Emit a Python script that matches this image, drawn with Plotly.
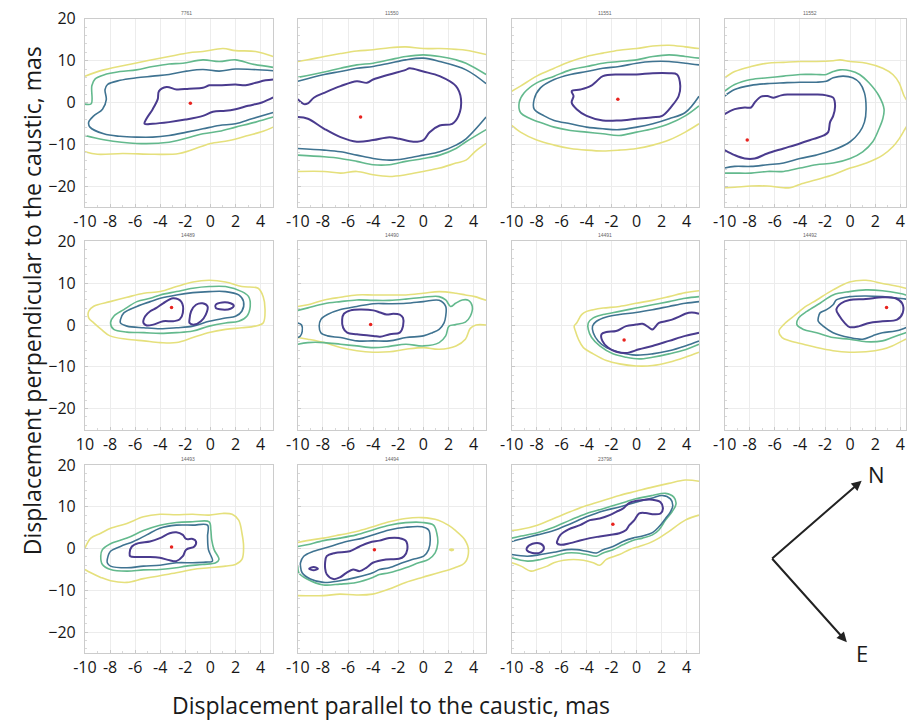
import plotly.graph_objects as go

W, H = 907, 721

TITLES = ["7761", "11550", "11551", "11552", "14489", "14490",
          "14491", "14492", "14493", "14494", "23798"]
X_TICKS = [-10, -8, -6, -4, -2, 0, 2, 4]
X_TICKTEXT = ["-10", "-8", "-6", "-4", "-2", "0", "2", "4"]
X_TICKTEXT_14489 = ["10", "-8", "-6", "-4", "-2", "0", "2", "4"]
Y_TICKS = [20, 10, 0, -10, -20]
X_RANGE = [-10, 5]
Y_RANGE = [-25, 20]

# ---- contour lines (data units). Level 1 = innermost (purple) ... level 4 = outermost (yellow)
# 7761
c7761_L1 = [[(5, 5.5), (4.4, 5.3), (3.6, 4.7), (2.8, 4.1), (2, 4.3), (0.7, 4.1), (-0.1, 4.1), (-0.6, 3.5), (-1.7, 3.3),
             (-2.7, 3.1), (-3.5, 3.7), (-4.1, 2.7), (-4.2, 0.8), (-4.6, -1.6), (-5.1, -3.9), (-5.25, -5.1), (-4.6, -5.1),
             (-3.3, -4.7), (-2, -4.1), (-0.6, -3.2), (0.2, -2.2), (1.2, -2.0), (2, -1.6), (3, -0.8), (4.1, 0), (5, 1.2)]]
c7761_L2 = [[(5, 7.6), (3.3, 7.9), (2, 8.0), (0.7, 7.5), (-0.6, 7.9), (-1.9, 7.5), (-3.3, 6.7), (-4.6, 6.3), (-5.9, 5.9),
             (-7.2, 5.3), (-8.2, 4.3), (-8.4, 3.1), (-8.3, 0.7), (-8.6, -1.6), (-9.3, -3.2), (-9.7, -4.7), (-9.6, -5.9),
             (-8.5, -7.5), (-7.2, -8.1), (-5.9, -8.3), (-4.6, -8.3), (-3.3, -7.9), (-1.9, -7.1), (-0.6, -6.3),
             (0.7, -5.5), (2, -5.1), (3.3, -3.9), (5, -2.4)]]
c7761_L3 = [[(-10, -0.4), (-9.5, -0.3), (-9.45, 4.0), (-9.2, 5.6), (-8.5, 6.6), (-7.2, 7.4), (-5.9, 7.8), (-4.6, 8.6),
             (-3.3, 9.2), (-2.2, 9.4), (-0.6, 10.2), (0.7, 9.8), (2, 10.2), (3.3, 9.2), (5, 8.4)],
            [(-10, -7.9), (-8.5, -8.9), (-5.9, -9.8), (-3.3, -9.5), (-0.6, -7.5), (0.7, -6.9), (2, -5.9), (3.6, -4.7),
             (5, -3.5)]]
c7761_L4 = [[(-10, 6.3), (-8.5, 7.8), (-6, 9.4), (-3.3, 11), (-1.7, 11.9), (-0.6, 12.2), (1, 12.9), (2, 12.4),
             (3.6, 12.2), (5, 11)],
            [(-10, -11.8), (-9, -12.4), (-7, -12.2), (-4.5, -12.4), (-2.5, -12.2), (-0.8, -10.6), (0, -9.8),
             (1.5, -9.1), (3, -7.9), (4.2, -6.9), (5, -5.9)]]
dot7761 = (-1.6, -0.2)

# 11550
c11550_L1 = [[(-10, 0.8), (-9.5, -0.4), (-9.2, -0.2), (-8.7, 1.2), (-7.9, 2.3), (-6.6, 3.9), (-5.3, 5.1), (-4.5, 4.7),
              (-4, 5.5), (-2.7, 6.7), (-1.4, 7.8), (-1.1, 8.2), (0, 7.4), (1.3, 6.3), (2.6, 3.9), (3, 0.8), (2.8, -3.2),
              (2.3, -5.1), (1.3, -5.5), (0.5, -7.1), (0, -9), (-0.8, -9.4), (-1.9, -8.7), (-2.7, -8.3), (-4, -9),
              (-5.3, -9.4), (-6.6, -8.3), (-7.9, -6.3), (-9.2, -3.9), (-10, -3.5)]]
c11550_L2 = [[(-10, 5.1), (-7.9, 6.7), (-6.6, 7.4), (-5.3, 8.2), (-4, 8.6), (-2.7, 9.4), (-1.4, 10.2), (0, 10.6),
              (1.3, 9.8), (3.4, 7.8), (5, 4.5)],
             [(-10, -11), (-7.9, -11.4), (-6.6, -11.8), (-5.3, -12.6), (-4, -13.4), (-2.7, -13.8), (-1.4, -13.4),
              (0, -12.6), (1.3, -11.8), (2.6, -10.2), (3.4, -8.7), (5, -3.5)]]
c11550_L3 = [[(-10, 6.0), (-7.9, 7.3), (-6.6, 8.2), (-5.3, 9), (-4, 9.4), (-2.7, 10.2), (-1.4, 11), (0, 11.4), (1.3, 11),
              (2.6, 10.2), (3.4, 9.4), (5, 6.7)],
             [(-10, -12.6), (-7.9, -13), (-6.6, -13.4), (-5.3, -14.1), (-4, -14.9), (-2.7, -14.9), (-1.4, -14.1),
              (0, -13.4), (1.3, -12.6), (2.6, -11), (3.4, -9.4), (5, -6.5)]]
c11550_L4 = [[(-10, 9.8), (-9.2, 10.2), (-7.9, 11), (-6.6, 11.7), (-5.3, 12.3), (-4, 12.6), (-2.7, 13.1), (-1.4, 13.3),
              (0, 12.9), (1.3, 12.9), (2.6, 12.7), (3.4, 12.5), (5, 11.5)],
             [(-10, -16.5), (-7.9, -16.5), (-6.6, -16.9), (-5.3, -16.5), (-4, -17.3), (-2.7, -17.7), (-1.4, -17.3),
              (0, -16.5), (1.3, -15.7), (2.6, -14.5), (3.4, -13.8), (4.1, -11.8), (5, -9.8)]]
dot11550 = (-5.0, -3.5)

# 11551
c11551_L1 = [[(-5.2, 2.7), (-5.05, 1.55), (-5.2, 0), (-4.8, -1.6), (-4, -3.2), (-2.7, -4.3), (-1.4, -4.3), (0, -3.9),
              (1.3, -3.55), (2.05, -3.2), (2.84, -0.8), (3.37, 1.55), (3.5, 3.9), (3.24, 6.7), (2.6, 7), (1.3, 7),
              (0, 6.7), (-1.4, 6.7), (-2.7, 6.3), (-3.2, 5.1), (-3.7, 3.9), (-4.5, 3.1), (-5.2, 2.7)]]
c11551_L2 = [[(5, 9), (3.9, 9.4), (2.6, 9.8), (1.3, 9.8), (0, 9.4), (-1.4, 8.6), (-2.7, 8.2), (-4, 7.4), (-5.3, 6.7),
              (-6.6, 5.5), (-7.7, 3.5), (-8.2, 0.8), (-8.2, -1.6), (-7.4, -3.2), (-6.6, -4.3), (-5.3, -5.1), (-4, -5.9),
              (-2.7, -6.3), (-1.4, -6.5), (0, -5.9), (1.3, -5.1), (2.6, -3.9), (3.9, -2.4), (5, 1.5)]]
c11551_L3 = [[(5, 10.6), (3.9, 11), (2.6, 11.4), (1.3, 11), (0, 10.2), (-1.4, 9.8), (-2.7, 9.4), (-4, 8.6), (-5.3, 7.8),
              (-6.6, 6.3), (-8, 4.7), (-9, 2.3), (-9.4, 0), (-9.3, -2.4), (-8.5, -3.9), (-7.4, -5.1), (-6.6, -5.9),
              (-5.3, -6.7), (-4, -7.1), (-2.7, -7.5), (-1.4, -7.9), (0, -7.1), (1.3, -6.3), (2.6, -5.1), (3.9, -3.2),
              (5, -0.8)]]
c11551_L4 = [[(-10, 2.7), (-9.3, 3.9), (-8, 6.3), (-6.6, 8.2), (-5.3, 9.8), (-4, 11), (-2.7, 11.8), (-1.4, 12.5),
              (0, 12.9), (1.3, 13.5), (2.6, 13.7), (3.9, 13.3), (5, 12.9)],
             [(-10, -5.5), (-9.3, -7.1), (-8, -9), (-6.6, -10.2), (-5.3, -11), (-4, -11.4), (-2.7, -11.6),
              (-1.4, -11.4), (0, -11), (1.3, -10.2), (2.6, -9), (3.9, -7.1), (5, -5.1)]]
dot11551 = (-1.5, 0.8)

# 11552
c11552_L1 = [[(-10, -2.8), (-9.2, -1.6), (-8.4, -1.2), (-7.9, -1.2), (-7.6, 0), (-7.1, 1.4), (-6.6, 1.55), (-6.1, 1.15),
              (-5.5, 1.7), (-5, 1.9), (-4, 1.9), (-2.7, 1.9), (-1.9, 1.7), (-1.35, 1.15), (-1.2, -0.8), (-1.35, -3.2),
              (-1.6, -4.7), (-1.75, -7.1), (-2.1, -7.9), (-2.9, -8.7), (-4, -9.8), (-5.3, -11), (-6.6, -12.2),
              (-7.6, -13.4), (-8.4, -13.4), (-9.2, -12.6), (-10, -11.4)]]
c11552_L2 = [[(-10, 1.55), (-9.2, 3.1), (-7.9, 4.1), (-6.6, 4.5), (-5.3, 4.7), (-4, 4.85), (-2.7, 4.85), (-1.9, 5.1),
              (-1.35, 5.9), (-0.56, 6.3), (0.2, 5.9), (0.75, 4.7), (1.14, 2.3), (1.27, -1.6), (1.14, -4.7),
              (0.75, -7.1), (0, -9.4), (-1.35, -11.4), (-2.7, -12.6), (-4, -13.4), (-5.3, -14.5), (-6.6, -14.9),
              (-7.9, -15.3), (-9.2, -15.3), (-10, -15.7)]]
c11552_L3 = [[(-10, 2.7), (-9.2, 4.3), (-7.9, 5.5), (-6.6, 5.9), (-5.3, 6.3), (-4, 6.7), (-2.7, 6.7), (-1.9, 6.7),
              (-1.35, 7.4), (-0.8, 7.8), (0, 7.6), (0.75, 6.7), (1.5, 4.7), (2.3, 1.55), (2.7, -1.6), (2.6, -3.9),
              (2.3, -6.3), (1.8, -9.4), (1, -11.8), (0, -13.4), (-1.35, -14.5), (-2.7, -14.9), (-4, -15.7),
              (-5.3, -16.5), (-6.6, -16.5), (-7.9, -16.9), (-9.2, -16.9), (-10, -16.9)]]
c11552_L4 = [[(-10, 5.9), (-9.2, 7.4), (-7.9, 8.6), (-6.6, 9.4), (-5.3, 9.6), (-4, 9.8), (-2.7, 9.8), (-1.35, 10),
              (-0.8, 10.2), (0, 9.8), (1.3, 9.4), (2.6, 8.2), (3.4, 6.7), (3.9, 4.7), (4.3, 1.55), (4.6, 0),
              (4.7, -2.5), (4.6, -5), (4.3, -6.7), (3.9, -8.7), (3.4, -10.6), (2.6, -12.6), (1.3, -14.5), (0, -15.7),
              (-1.35, -17.3), (-2.7, -18.5), (-4, -19.6), (-4.8, -20.4), (-5.3, -20.4), (-6.6, -20), (-7.9, -20),
              (-9.2, -20.3), (-10, -20.4)]]
dot11552 = (-8.2, -9.0)

# 14489
c14489_L1 = [[(-5.34, 0.5), (-5.2, 2.1), (-4.8, 3.3), (-4.3, 4.1), (-3.77, 5.2), (-2.98, 6.4), (-2.33, 5.6), (-2.2, 2.9),
              (-2.46, 1.3), (-2.98, 0.9), (-3.77, 0.9), (-4.55, 0.1), (-5.08, -0.1), (-5.34, 0.5)],
             [(-1.67, 1.3), (-1.54, 3.3), (-1.15, 4.85), (-0.63, 5.2), (-0.23, 4.45), (-0.37, 2.5), (-0.76, 0.9),
              (-1.28, 0.1), (-1.67, 0.5), (-1.67, 1.3)],
             [(0.42, 4.85), (0.94, 5.4), (1.6, 5.2), (1.86, 4.6), (1.6, 3.9), (0.94, 3.7), (0.42, 4.1), (0.42, 4.85)]]
c14489_L2 = [[(-7.17, 1.3), (-6.9, 2.9), (-5.86, 4.45), (-4.8, 5.6), (-4, 6.4), (-2.7, 7.2), (-1.4, 7.75), (-0.1, 8),
              (1.2, 8), (2.25, 7.2), (2.64, 5.6), (2.5, 3.3), (2, 2.1), (1.2, 1.7), (-0.1, 0.9), (-1.4, -0.26),
              (-2.7, -0.65), (-4, -0.9), (-5.3, -0.65), (-6.65, -0.26), (-7.17, 0.5), (-7.17, 1.3)]]
c14489_L3 = [[(-7.96, 0.5), (-7.7, 2.1), (-6.9, 3.7), (-5.86, 5.6), (-4.8, 6.4), (-4, 7.2), (-2.7, 8), (-1.4, 8.8),
              (-0.1, 9.2), (1.2, 9.2), (2.5, 8), (3.04, 6.8), (3.17, 4.45), (2.9, 2.1), (2.25, 0.9), (1.2, 0.5),
              (-0.1, -0.26), (-1.4, -1.44), (-2.7, -1.83), (-4, -2), (-5.3, -1.83), (-6.65, -1.7), (-7.7, -1.05),
              (-7.96, 0.5)]]
c14489_L4 = [[(-9.7, 3.3), (-9.3, 4.5), (-8, 5.6), (-6.65, 6.65), (-5.3, 7.6), (-4, 8), (-2.7, 9.2), (-1.4, 10.3),
              (-0.1, 10.7), (1.2, 10.3), (2.5, 9.2), (3.8, 8.8), (4.2, 6.8), (4.35, 3.7), (4.2, 0.5), (3.56, -0.26),
              (2.5, -0.65), (1.2, -1.05), (-0.1, -1.8), (-1.4, -3), (-2.7, -4.2), (-4, -4.2), (-5.3, -3.8),
              (-6.65, -3.4), (-8, -2.6), (-8.7, -1.05), (-9.3, 0.5), (-9.7, 1.7), (-9.7, 3.3)]]
dot14489 = (-3.1, 4.2)

# 14490
c14490_L1 = [[(-6.47, 1.3), (-6.33, 2.7), (-5.8, 3.5), (-5.03, 3.7), (-3.98, 3.5), (-3.45, 3.0), (-2.93, 2.5),
              (-2.4, 2.7), (-1.88, 2.5), (-1.62, 1.7), (-1.62, -0.26), (-1.88, -1.83), (-2.67, -2.2), (-3.45, -2.8),
              (-3.98, -2.6), (-5.29, -2.2), (-6.07, -1.83), (-6.39, -0.65), (-6.47, 1.3)]]
c14490_L2 = [[(-8.3, -0.26), (-8.17, 1.3), (-7.64, 2.5), (-6.6, 3.7), (-5.3, 4.45), (-4, 5.1), (-2.7, 5.1),
              (-1.36, 5.2), (0, 5.6), (1.26, 5.9), (1.78, 4.45), (1.78, 2.1), (1.65, 0.5), (1.26, -1.05),
              (0.73, -1.83), (0, -2.6), (-1.36, -3), (-2.7, -3.8), (-4, -3.8), (-5.3, -3.8), (-6.6, -3),
              (-7.64, -2.6), (-8.17, -1.83), (-8.3, -0.26)],
             [(-10, 0.5), (-9.7, 0), (-9.65, -1.5), (-9.8, -2.6), (-10, -3)]]
c14490_L3 = [[(-10, 3.5), (-9.2, 4.1), (-7.9, 5.1), (-6.6, 5.6), (-5.3, 6), (-4, 5.9), (-2.7, 5.9), (-1.4, 6.2),
              (0, 6.65), (1.26, 6.8), (1.78, 6), (2.17, 4.45), (2.57, 5.2), (3.1, 6), (3.6, 5.9), (3.9, 4.45),
              (3.74, 2.1), (3.35, 0.7), (2.57, 0.1), (2.04, -0.26), (1.78, -2.6), (1.26, -4.2), (0, -5),
              (-1.4, -4.6), (-2.7, -5.1), (-4, -5.4), (-5.3, -5), (-6.6, -4.6), (-7.9, -4.2), (-9.2, -4.2),
              (-10, -4.6)]]
c14490_L4 = [[(-10, 4.45), (-9.2, 4.85), (-7.9, 6), (-6.6, 6.65), (-5.3, 7.2), (-4, 7.2), (-2.7, 7.2), (-1.4, 7.2),
              (0, 7.6), (1.26, 8), (2.6, 7.6), (3.35, 7.2), (4.1, 6.8), (5, 5.9)],
             [(-10, -3), (-9.2, -3.4), (-7.9, -4.2), (-6.6, -5.4), (-5.3, -6.15), (-4, -6.5), (-2.7, -6.4),
              (-1.4, -5.8), (0, -5.4), (1.26, -5.8), (2.6, -5), (3.35, -3.4), (3.74, -0.8), (4.2, 0), (5, 0)]]
dot14490 = (-4.2, 0.1)

# 14491
c14491_L1 = [[(5, 2.7), (4.42, 3.0), (3.9, 2.7), (3.37, 1.94), (2.84, 1.3), (2.32, 0.9), (1.79, 0.5), (1.27, -1.05),
              (1.0, -0.6), (0.48, 0.3), (-0.05, 0.1), (-0.84, -0.26), (-1.63, -1.44), (-2.42, -1.67), (-2.81, -2.2),
              (-2.74, -3.8), (-2.29, -5.4), (-1.63, -6.4), (-0.84, -6.7), (0.21, -5.8), (1.27, -5.0), (2.6, -3.8),
              (3.9, -2.6), (5, -1.83)]]
c14491_L2 = [[(5, 5.6), (3.9, 5.2), (2.6, 4.45), (1.27, 3.67), (-0.05, 3.0), (-1.37, 2.5), (-2.42, 1.94), (-3.21, 0.9),
              (-3.53, -0.26), (-3.47, -1.83), (-3.08, -3.8), (-2.42, -5.4), (-1.37, -6.5), (-0.05, -7.2),
              (1.27, -6.9), (2.6, -6.15), (3.9, -5), (5, -3.8)]]
c14491_L3 = [[(5, 6.8), (3.9, 6.4), (2.6, 5.6), (1.27, 4.85), (-0.05, 4.06), (-1.37, 3.27), (-2.68, 2.5), (-3.47, 1.7),
              (-3.87, 0.5), (-3.87, -1.05), (-3.6, -3.0), (-2.95, -5), (-1.9, -6.9), (-0.84, -7.7), (0.21, -8.1),
              (1.27, -7.7), (2.6, -6.9), (3.9, -5.9), (5, -4.6)]]
c14491_L4 = [[(5, 8.2), (3.9, 7.75), (2.6, 6.8), (1.27, 5.9), (-0.05, 5.2), (-1.37, 4.45), (-2.68, 4.06), (-3.47, 3.67),
              (-4, 3.27), (-4.4, 2.5), (-4.8, 0.5), (-5, -0.26), (-4.9, -1.44), (-4.66, -3.4), (-4.26, -5.4),
              (-3.47, -6.9), (-2.42, -8.5), (-1.37, -9.3), (-0.05, -9.8), (1.27, -9.7), (2.6, -8.9), (3.9, -7.7),
              (5, -6.5)]]
dot14491 = (-1.0, -3.6)

# 14492
c14492_L1 = [[(-1.1, 3.67), (-0.71, 5.2), (-0.05, 6), (1.26, 6.2), (2.57, 6.65), (3.61, 6.4), (4.14, 5.2), (4.19, 2.9),
              (3.74, 1.3), (2.57, 0.9), (1.52, 0.5), (0.73, -0.26), (-0.05, -0.5), (-0.44, 0.5), (-0.84, 2.1),
              (-1.1, 3.67)]]
c14492_L2 = [[(5, 5.8), (4.43, 6.2), (3.88, 6.4), (2.57, 6.8), (1.26, 6.96), (-0.05, 6.8), (-1.1, 6.0), (-1.36, 4.85),
              (-1.88, 3.67), (-2.4, 2.9), (-2.54, 1.7), (-2.54, 0.9), (-2.15, -0.26), (-1.36, -1.83), (-0.05, -3.0),
              (1.0, -3.4), (1.78, -2.6), (2.57, -1.83), (3.6, -1.44), (4.43, -0.65), (5, 0)]]
c14492_L3 = [[(5, 6.5), (4.43, 7.2), (3.88, 7.6), (2.57, 8.2), (1.26, 8.4), (-0.05, 8), (-1.36, 7.2), (-2.4, 5.2),
              (-3.45, 3.27), (-4.1, 1.7), (-4.24, 0.1), (-3.72, -1.05), (-2.67, -1.83), (-1.36, -3.0), (-0.05, -3.4),
              (1.26, -4.0), (2.57, -3.8), (3.35, -3.0), (4.43, -1.83), (5, -1.2)]]
c14492_L4 = [[(5, 8.0), (4.43, 8.8), (3.88, 9.2), (2.57, 9.95), (1.26, 10.7), (-0.05, 10.3), (-1.36, 8.4), (-2.67, 6),
              (-3.72, 4.06), (-4.5, 2.1), (-5.29, 0.1), (-5.68, -1.44), (-5.42, -3.0), (-4.76, -3.8), (-3.72, -4.6),
              (-2.67, -5.4), (-1.36, -6.15), (-0.05, -6.5), (1.26, -6.4), (2.57, -5.8), (3.35, -5.0), (4.43, -3.4),
              (5, -2.5)]]
dot14492 = (2.9, 4.2)

# 14493
c14493_L1 = [[(-6.44, -1.05), (-6.26, 0.5), (-5.73, 1.3), (-4.82, 1.7), (-4.03, 2.5), (-3.25, 3.67), (-2.72, 3.9),
              (-2.2, 3.27), (-1.94, 2.3), (-1.41, 2.3), (-1.15, 1.7), (-1.28, 0.5), (-1.94, -0.26), (-2.2, -1.83),
              (-2.72, -3.0), (-3.25, -2.8), (-4.03, -2.2), (-4.82, -2.0), (-5.86, -2.0), (-6.39, -1.83),
              (-6.44, -1.05)]]
c14493_L2 = [[(-8.22, -2.6), (-7.96, -0.65), (-7.17, 0.5), (-6.13, 1.7), (-5.08, 3.27), (-4.03, 4.85), (-2.72, 5.6),
              (-1.41, 5.6), (-0.23, 5.6), (-0.23, 2.9), (-0.16, -0.26), (0.16, -3), (-0.37, -3.25), (-1.41, -3.4),
              (-2.72, -3.4), (-4.03, -4), (-5.34, -4.2), (-6.65, -4.6), (-7.96, -4.2), (-8.22, -3.4), (-8.22, -2.6)]]
c14493_L3 = [[(-8.74, -1.83), (-8.61, -0.26), (-7.96, 1.15), (-6.65, 2.5), (-5.34, 4.3), (-4.03, 5.6), (-2.72, 6.25),
              (-1.41, 6.4), (-0.1, 6.4), (0.03, 4.45), (0.1, 2.1), (0.29, -0.26), (0.68, -2.6), (0.42, -3.4),
              (-0.63, -3.8), (-1.94, -4.2), (-2.72, -4.6), (-4.03, -5), (-5.34, -5.1), (-6.65, -5.4), (-7.96, -5),
              (-8.61, -3.8), (-8.74, -1.83)]]
c14493_L4 = [[(-10, 0.1), (-9.53, 2.5), (-8.74, 3.67), (-7.96, 4.85), (-6.65, 6), (-5.34, 7.6), (-4.03, 8.2),
              (-2.72, 8.1), (-1.41, 8.2), (-0.1, 8.0), (0.94, 8.4), (1.73, 8.2), (2.25, 6.8), (2.51, 3.67),
              (2.64, 0.5), (2.51, -2.6), (1.99, -3.8), (1.2, -4.2), (-0.1, -4.6), (-1.41, -5), (-2.72, -5.8),
              (-4.03, -6.5), (-5.34, -7.2), (-6.65, -8.1), (-7.96, -7.7), (-8.74, -6.9), (-9.53, -5.8), (-10, -5.0)]]
dot14493 = (-3.1, 0.4)

# 14494
c14494_L1 = [[(-7.83, -3.4), (-7.7, -1.83), (-7.04, -1.05), (-5.86, -0.65), (-5.08, 0.5), (-4.29, 1.45), (-3.5, 1.9),
              (-2.72, 2.5), (-1.94, 2.5), (-1.41, 1.9), (-1.28, -0.26), (-1.54, -1.83), (-1.94, -2.45), (-2.98, -2.6),
              (-4.03, -3.4), (-4.55, -4.6), (-5.08, -5.4), (-5.6, -5.0), (-6.13, -5.8), (-6.65, -6.9), (-7.17, -7.3),
              (-7.7, -6.15), (-7.83, -4.6), (-7.83, -3.4)],
             [(-9.1, -4.8), (-8.74, -4.4), (-8.4, -4.8), (-8.74, -5.2), (-9.1, -4.8)]]
c14494_L2 = [[(-9.79, -3.4), (-9.53, -1.83), (-8.74, -0.65), (-7.43, 0.5), (-6.13, 1.7), (-4.82, 2.5), (-4.03, 3.27),
              (-2.72, 4.45), (-1.41, 5.1), (-0.1, 5.2), (0.42, 4.45), (0.55, 2.1), (0.42, -0.26), (0.03, -1.83),
              (-0.89, -2.6), (-1.67, -3.4), (-2.72, -4.6), (-3.5, -5), (-4.03, -5.8), (-5.34, -6.9), (-6.65, -7.7),
              (-7.96, -8.1), (-9, -7.3), (-9.66, -5.8), (-9.79, -4.2), (-9.79, -3.4)]]
c14494_L3 = [[(-10, 0.5), (-9.27, 0.9), (-7.96, 1.9), (-6.65, 2.5), (-5.34, 3.27), (-4.03, 4.45), (-2.72, 5.6),
              (-1.41, 6.2), (-0.1, 6.25), (0.81, 5.6), (1.07, 3.67), (1.15, 1.3), (0.94, -1.05), (0.42, -2.6),
              (-0.37, -3.4), (-1.41, -4.6), (-2.72, -5.8), (-3.5, -6.2), (-4.03, -6.9), (-5.34, -8.1), (-6.65, -8.5),
              (-7.96, -8.7), (-9.27, -7.3), (-9.92, -5.8), (-10, -4.2)]]
c14494_L4 = [[(-10, 1.45), (-9.27, 1.9), (-7.96, 2.5), (-6.65, 3.27), (-5.34, 4.06), (-4.03, 5.2), (-2.72, 6.4),
              (-1.41, 7.2), (-0.1, 7.4), (1.2, 6.8), (1.99, 5.6), (2.5, 4.45), (3.3, 2.1), (3.6, -0.5), (3.3, -3.4),
              (2.5, -4.6), (1.2, -5.8), (-0.1, -6.9), (-1.41, -8.1), (-2.72, -9.7), (-4.03, -10.9), (-5.34, -11.1),
              (-6.65, -10.9), (-7.96, -11.25), (-10, -11.25)],
             [(2.1, -0.3), (2.25, -0.1), (2.4, -0.3), (2.25, -0.5), (2.1, -0.3)]]
dot14494 = (-3.9, -0.3)

# 23798
c23798_L1 = [[(-6.37, 1.7), (-6.1, 3.27), (-5.45, 4.6), (-4.53, 5.6), (-3.74, 6.8), (-2.95, 7.2), (-2.16, 8.0),
              (-1.63, 8.8), (-1.1, 9.55), (-0.58, 10.9), (0.21, 11.5), (1.27, 11.7), (1.92, 11.1), (2.11, 9.55),
              (1.92, 8.4), (1.4, 8.2), (0.74, 8.5), (0.21, 8.4), (-0.18, 6.8), (-0.58, 5.6), (-0.84, 4.45),
              (-1.37, 3.67), (-2.16, 3.27), (-2.95, 2.9), (-3.74, 2.5), (-4.53, 1.94), (-5.32, 1.3), (-6.1, 0.9),
              (-6.37, 1.3), (-6.37, 1.7)],
             [(-8.79, 0.13), (-8.34, 1.15), (-7.68, 1.15), (-7.42, 0.13), (-7.68, -0.9), (-8.34, -1.05),
              (-8.79, -0.4), (-8.79, 0.13)]]
c23798_L2 = [[(-10, 1.7), (-9.26, 2.3), (-7.95, 3.27), (-6.63, 4.3), (-5.32, 5.9), (-4, 7.6), (-2.68, 9.0),
              (-1.37, 9.95), (-0.05, 11.1), (1.27, 12.1), (2.05, 12.7), (2.71, 11.9), (2.9, 10.3), (2.71, 8.8),
              (2.32, 7.2), (1.79, 5.2), (1.27, 3.8), (0.48, 3.0), (-0.31, 2.5), (-1.1, 1.7), (-1.89, 0.5),
              (-2.68, -0.26), (-3.21, -1.05), (-4, -0.65), (-4.79, -0.26), (-5.58, -0.26), (-6.63, -0.9),
              (-7.68, -1.44), (-8.74, -1.83), (-10, -1.44)]]
c23798_L3 = [[(-10, 2.5), (-9.26, 3.0), (-7.95, 3.8), (-6.63, 5.1), (-5.32, 6.8), (-4, 8.4), (-2.68, 9.55),
              (-1.37, 10.7), (-0.05, 11.9), (1.27, 12.7), (2.32, 13.2), (2.98, 12.3), (3.16, 10.7), (2.84, 8.8),
              (2.32, 6.8), (1.79, 4.45), (1.27, 3.27), (0.48, 2.5), (-0.31, 1.94), (-1.1, 0.9), (-1.89, -0.26),
              (-2.68, -1.05), (-3.21, -1.83), (-4, -1.44), (-4.79, -1.05), (-5.58, -1.05), (-6.63, -1.83),
              (-7.68, -2.6), (-8.74, -3.0), (-10, -2.2)]]
c23798_L4 = [[(-10, 4.3), (-9.26, 4.6), (-7.95, 5.6), (-6.63, 7.2), (-5.32, 8.8), (-4, 10.3), (-2.68, 11.5),
              (-1.37, 12.7), (-0.05, 13.7), (1.27, 14.7), (2.58, 15.6), (3.9, 16.4), (5, 16.1)],
             [(-10, -3.4), (-9.26, -4.2), (-8.47, -5.4), (-7.95, -5.0), (-7.16, -4.2), (-6.63, -3.4), (-5.84, -2.8),
              (-5.05, -2.6), (-4.26, -2.8), (-3.47, -3.4), (-2.95, -4.0), (-2.42, -2.6), (-1.37, -1.44),
              (-0.58, -0.26), (0.21, 0.5), (1.0, 1.3), (1.79, 2.5), (2.58, 4.06), (3.9, 6.8), (5, 8.0)]]
dot23798 = (-1.9, 5.8)

PANEL_LEVELS = [
    (c7761_L1, c7761_L2, c7761_L3, c7761_L4),
    (c11550_L1, c11550_L2, c11550_L3, c11550_L4),
    (c11551_L1, c11551_L2, c11551_L3, c11551_L4),
    (c11552_L1, c11552_L2, c11552_L3, c11552_L4),
    (c14489_L1, c14489_L2, c14489_L3, c14489_L4),
    (c14490_L1, c14490_L2, c14490_L3, c14490_L4),
    (c14491_L1, c14491_L2, c14491_L3, c14491_L4),
    (c14492_L1, c14492_L2, c14492_L3, c14492_L4),
    (c14493_L1, c14493_L2, c14493_L3, c14493_L4),
    (c14494_L1, c14494_L2, c14494_L3, c14494_L4),
    (c23798_L1, c23798_L2, c23798_L3, c23798_L4),
]
PANEL_DOTS = [dot7761, dot11550, dot11551, dot11552, dot14489, dot14490,
              dot14491, dot14492, dot14493, dot14494, dot23798]

LEVEL_COLORS = ["#4a3b8e", "#3f7391", "#63b98d", "#e5e07c"]
LEVEL_WIDTHS = [2.0, 1.6, 1.6, 1.6]

# ---- layout geometry (pixels)
COL_PX = [(74, 265), (290, 481), (507, 697), (723, 914)]
ROW_PX = [(8, 199), (234, 425), (461, 652)]

FONT = "Open Sans, Liberation Sans, Arial, sans-serif"
TICKFONT = dict(family=FONT, size=16, color="#161616")

fig = go.Figure()
layout = dict(
    width=W, height=H, margin=dict(l=0, r=0, t=0, b=0),
    paper_bgcolor="white", plot_bgcolor="white", showlegend=False,
    annotations=[],
)

for i, levels in enumerate(PANEL_LEVELS):
    r, c = divmod(i, 4)
    x0, x1 = COL_PX[c]
    y0, y1 = ROW_PX[r]
    xr = list(X_RANGE)
    right = x1
    if x1 > W:
        right = W
        xr = [X_RANGE[0], X_RANGE[0] + (W - x0) * (X_RANGE[1] - X_RANGE[0]) / (x1 - x0)]
    n = "" if i == 0 else str(i + 1)
    xa, ya = "x" + n, "y" + n
    for lvl in range(3, -1, -1):
        xs, ys = [], []
        for seg in levels[lvl]:
            xs += [p[0] for p in seg] + [None]
            ys += [p[1] for p in seg] + [None]
        fig.add_trace(go.Scatter(
            x=xs, y=ys, mode="lines", xaxis=xa, yaxis=ya,
            line=dict(color=LEVEL_COLORS[lvl], width=LEVEL_WIDTHS[lvl], shape="spline", smoothing=1.0),
            connectgaps=False, hoverinfo="skip"))
    dx, dy = PANEL_DOTS[i]
    fig.add_trace(go.Scatter(x=[dx], y=[dy], mode="markers", xaxis=xa, yaxis=ya,
                             marker=dict(color="#e8231f", size=3.5), hoverinfo="skip"))
    ticktext = X_TICKTEXT_14489 if TITLES[i] == "14489" else X_TICKTEXT
    layout["xaxis" + n] = dict(
        domain=[x0 / W, right / W], range=xr, anchor=ya,
        tickmode="array", tickvals=X_TICKS, ticktext=ticktext, tickfont=TICKFONT,
        showline=True, linecolor="#cccccc", linewidth=1, mirror=True,
        ticks="inside", ticklen=3, tickcolor="#c8c8c8",
        minor=dict(ticks="inside", ticklen=2, tickcolor="#d8d8d8", dtick=1, showgrid=False),
        showgrid=True, gridcolor="#ececec", gridwidth=1, zeroline=False, fixedrange=True,
    )
    layout["yaxis" + n] = dict(
        domain=[1 - y1 / H, 1 - y0 / H], range=Y_RANGE, anchor=xa,
        tickmode="array", tickvals=Y_TICKS, tickfont=TICKFONT,
        showticklabels=(c == 0), ticklabelstandoff=5,
        showline=True, linecolor="#cccccc", linewidth=1, mirror=True,
        ticks="inside", ticklen=3, tickcolor="#c8c8c8",
        minor=dict(ticks="inside", ticklen=2, tickcolor="#d8d8d8", dtick=2, showgrid=False),
        showgrid=True, gridcolor="#ececec", gridwidth=1, zeroline=False, fixedrange=True,
    )
    layout["annotations"].append(dict(
        text=TITLES[i], xref="paper", yref="paper",
        x=(x0 + x1) / 2 / W, y=1 - (y0 - 1) / H, showarrow=False, yanchor="bottom",
        font=dict(family="Liberation Sans, Arial, sans-serif", size=5, color="#666666")))

# axis titles
layout["annotations"].append(dict(
    text="Displacement parallel to the caustic, mas", xref="paper", yref="paper",
    x=385 / W, y=1 - 705 / H, showarrow=False, yanchor="middle", xanchor="center",
    font=dict(family=FONT, size=23, color="#1a1a1a")))
layout["annotations"].append(dict(
    text="Displacement perpendicular to the caustic, mas", xref="paper", yref="paper",
    x=20 / W, y=1 - 294 / H, showarrow=False, textangle=-90, xanchor="center", yanchor="middle",
    font=dict(family=FONT, size=23, color="#1a1a1a")))

# compass arrows
ORIGIN = (771, 556)
N_TIP = (862, 477)
E_TIP = (847, 641)
for tip, lab, lpos in [(N_TIP, "N", (877, 470)), (E_TIP, "E", (862, 652))]:
    layout["annotations"].append(dict(
        x=tip[0] / W, y=1 - tip[1] / H, xref="paper", yref="paper", text="",
        showarrow=True, ax=ORIGIN[0] - tip[0], ay=ORIGIN[1] - tip[1],
        arrowhead=2, arrowsize=1, arrowwidth=2, arrowcolor="#222222"))
    layout["annotations"].append(dict(
        x=lpos[0] / W, y=1 - lpos[1] / H, xref="paper", yref="paper", text=lab, showarrow=False,
        xanchor="center", yanchor="middle",
        font=dict(family=FONT, size=22, color="#1a1a1a")))

fig.update_layout(**layout)
fig.write_html("out.html")
